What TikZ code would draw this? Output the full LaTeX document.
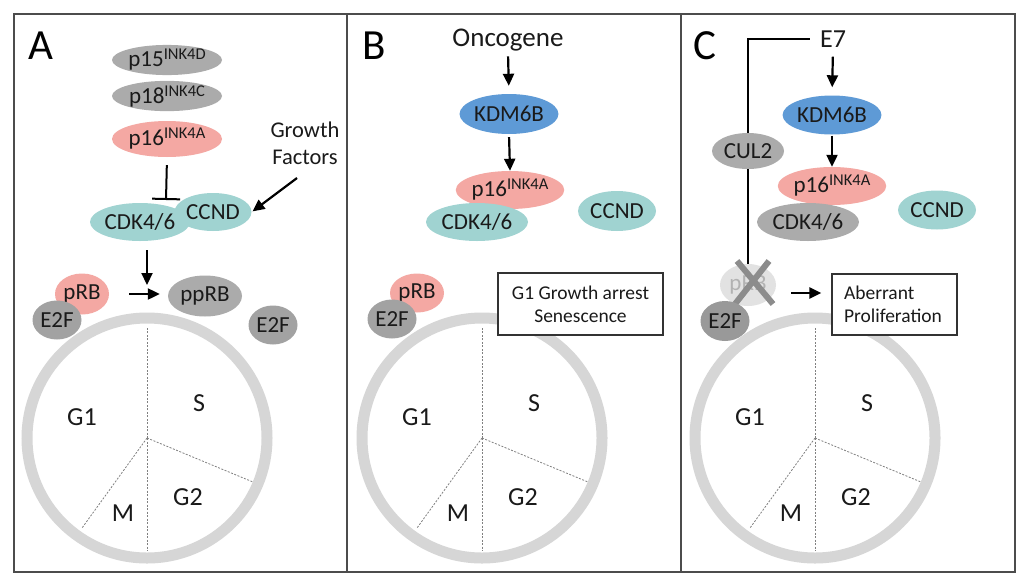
\documentclass[tikz,border=0pt]{standalone}
\usepackage{fontspec}
\setmainfont{Carlito}
\usetikzlibrary{shapes.geometric,arrows.meta}
\definecolor{pgray}{HTML}{ABABAB}
\definecolor{e2fgray}{HTML}{A2A2A2}
\definecolor{ppink}{HTML}{F4A8A3}
\definecolor{pteal}{HTML}{A0D3D1}
\definecolor{pblue}{HTML}{5E9AD6}
\definecolor{ringgray}{HTML}{D6D6D6}
\definecolor{fadegray}{HTML}{E2E2E2}
\definecolor{txt}{HTML}{1A1A1A}
\newcommand\fsz[2]{\fontsize{#1}{#2}\selectfont}
\newcommand\inksup[2]{#1\raisebox{7pt}{\fsz{16.5}{17}#2}}
\tikzset{
  prot/.style={ellipse, inner sep=0pt, text=txt, font=\fsz{23}{25}},
  grayp/.style={prot, fill=pgray},
  e2fp/.style={prot, fill=e2fgray},
  pinkp/.style={prot, fill=ppink},
  tealp/.style={prot, fill=pteal},
  bluep/.style={prot, fill=pblue},
  arr/.style={-{Triangle[length=12pt,width=11pt]}, line width=2.2pt, draw=black},
  plainline/.style={line width=1.5pt, draw=black},
  ring/.style={line width=11pt, draw=ringgray},
  phase/.style={draw=gray, line width=0.8pt, dash pattern=on 2pt off 1.5pt},
  phaselbl/.style={font=\fsz{26}{28}, text=txt, inner sep=0pt},
  panel/.style={draw=black!70, line width=1.4pt},
  bigletter/.style={font=\fsz{43}{45}, text=black, inner sep=0pt},
  toplbl/.style={font=\fsz{27}{29}, text=txt, inner sep=2pt},
  outbox/.style={draw=black!80, line width=1.3pt, font=\fsz{19.5}{23}, text=txt, fill=white},
}
\newcommand\cyclering[2]{%
  \coordinate (cc#2) at (#1,438);
  \draw[ring] (cc#2) circle[radius=120pt];
  \draw[phase] (cc#2) -- ++(0,-112) coordinate (pu#2);
  \draw[phase] (cc#2) -- ++(0,113) coordinate (pd#2);
  \draw[phase] (cc#2) -- ++(106,44) coordinate (pr#2);
  \draw[phase] (cc#2) -- ++(-65,90) coordinate (pl#2);
  \path (cc#2) ++(-65,-21) node[phaselbl] (gone#2) {G1};
  \path (cc#2) ++(52,-35) node[phaselbl] (ess#2) {S};
  \path (cc#2) ++(41,59) node[phaselbl] (gtwo#2) {G2};
  \path (cc#2) ++(-24,75) node[phaselbl] (emm#2) {M};
}
\begin{document}
\begin{tikzpicture}[x=1pt,y=-1pt]
\useasboundingbox (0,0) rectangle (1024,581);
\fill[white] (0,0) rectangle (1024,581);

% panels
\draw[panel] (14,14) rectangle (347,572);
\draw[panel] (347,14) rectangle (681,572);
\draw[panel] (681,14) rectangle (1015,572);

% ---------------- Panel A ----------------
\node[bigletter] (labA) at (41,46) {A};
\node[grayp, minimum width=110pt, minimum height=30pt] (p15A) at (167,60) {\inksup{p15}{INK4D}};
\node[grayp, minimum width=110pt, minimum height=30pt] (p18A) at (167,96) {\inksup{p18}{INK4C}};
\node[pinkp, minimum width=110pt, minimum height=36pt] (p16A) at (167,139) {\inksup{p16}{INK4A}};
\node[tealp, minimum width=100pt, minimum height=38pt] (cdkA) at (140,222) {CDK4/6};
\node[tealp, minimum width=77pt, minimum height=38pt] (ccndA) at (213,212) {CCND};
\coordinate (tbarA) at (166,200);
\draw[line width=2pt, -{Bar[width=28pt,line width=2pt]}, shorten <=8pt] (p16A.south) -- (tbarA);
\node[font=\fsz{22.5}{27}, text=txt, align=center, inner sep=0pt] (gfA) at (305,143) {Growth\\Factors};
\coordinate (gfstart) at (297,178);
\draw[arr, shorten >=1pt] (gfstart) -- (ccndA.east);
\coordinate (dn1) at (147,250);
\coordinate (dn2) at (147,285);
\draw[arr] (dn1) -- (dn2);
\node[pinkp, minimum width=54pt, minimum height=41pt] (prbA) at (82,294) {pRB};
\node[e2fp, minimum width=49pt, minimum height=39pt] (e2fA) at (57,320) {E2F};
\node[grayp, minimum width=74pt, minimum height=41pt] (pprbA) at (205,296) {ppRB};
\node[e2fp, minimum width=49pt, minimum height=39pt] (e2fA2) at (273,325) {E2F};
\draw[arr, shorten <=20pt, shorten >=8pt] (prbA.east) -- (prbA.east -| pprbA.west);
\cyclering{147}{A}

% ---------------- Panel B ----------------
\node[bigletter] (labB) at (374,46) {B};
\node[toplbl] (oncB) at (508,40) {Oncogene};
\node[bluep, minimum width=95pt, minimum height=40pt] (kdmB) at (509,114) {KDM6B};
\node[pinkp, minimum width=108pt, minimum height=38pt] (p16B) at (510,190) {\inksup{p16}{INK4A}};
\node[tealp, minimum width=102pt, minimum height=38pt] (cdkB) at (477,222) {CDK4/6};
\node[tealp, minimum width=78pt, minimum height=40pt] (ccndB) at (617,211) {CCND};
\draw[arr, shorten <=3pt, shorten >=8pt] (oncB.south) -- (kdmB.north);
\draw[arr, shorten <=3pt] (kdmB.south) -- (p16B.north);
\node[pinkp, minimum width=54pt, minimum height=39pt] (prbB) at (417,293) {pRB};
\node[e2fp, minimum width=49pt, minimum height=39pt] (e2fB) at (392,319) {E2F};
\cyclering{482}{B}
\node[outbox, minimum width=165pt, minimum height=62pt, align=center] (boxB) at (580.5,304) {G1 Growth arrest\\Senescence};

% ---------------- Panel C ----------------
\node[bigletter] (labC) at (705,46) {C};
\node[toplbl, font=\fsz{26}{28}, inner xsep=10pt] (e7C) at (833,39) {E7};
\node[prot, fill=fadegray, text=black!30, minimum width=56pt, minimum height=42pt] (prbC) at (748,285) {pRB};
\node[grayp, minimum width=72pt, minimum height=36pt] (cul2C) at (748,151) {CUL2};
\draw[plainline] (e7C.west) -| (cul2C.north);
\draw[plainline] (cul2C.south) -- (prbC.north);
\draw[line width=6pt, draw=black!45] (737,261) -- (773,304) (769,261) -- (735,304);
\node[e2fp, fill=black!40, minimum width=49pt, minimum height=40pt] (e2fC) at (725,321) {E2F};
\node[bluep, minimum width=95pt, minimum height=39pt] (kdmC) at (832,115) {KDM6B};
\node[pinkp, minimum width=108pt, minimum height=38pt] (p16C) at (832,186) {\inksup{p16}{INK4A}};
\node[grayp, minimum width=102pt, minimum height=38pt] (cdkC) at (808,222) {CDK4/6};
\node[tealp, minimum width=78pt, minimum height=39pt] (ccndC) at (937,210) {CCND};
\draw[arr, shorten <=7pt, shorten >=8pt] (e7C.south) -- (kdmC.north);
\draw[arr, shorten <=1pt] (kdmC.south) -- (p16C.north);
\cyclering{815}{C}
\node[outbox, minimum width=125pt, minimum height=61pt, text width=101pt, inner xsep=12pt, align=left] (boxC) at (894.5,304.5) {Aberrant\\Proliferation};
\draw[arr, shorten <=15pt, shorten >=10pt] (prbC.east |- 0,293) -- (boxC.west |- 0,293);
\end{tikzpicture}
\end{document}
